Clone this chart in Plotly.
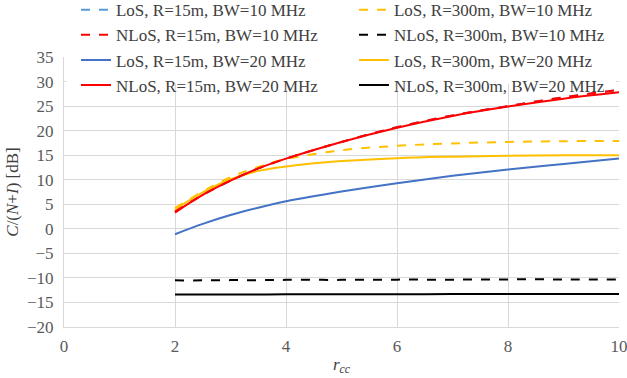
import plotly.graph_objects as go

x = [2, 2.5, 3, 3.5, 4, 5, 6, 7, 8, 9, 10]

los15_10 = [3.5, 6.9, 9.8, 12.3, 14.3, 17.7, 20.7, 23.1, 25.0, 26.8, 28.3]
nlos15_10 = [3.5, 6.9, 9.8, 12.3, 14.3, 17.7, 20.7, 23.1, 25.0, 26.8, 28.3]
los15_20 = [-1.1, 1.0, 2.8, 4.3, 5.6, 7.6, 9.3, 10.8, 12.1, 13.2, 14.3]
nlos15_20 = [3.3, 6.9, 9.8, 12.3, 14.3, 17.7, 20.6, 23.0, 24.9, 26.5, 27.8]
los300_10 = [4.2, 7.6, 10.5, 12.6, 14.2, 16.0, 16.9, 17.4, 17.7, 17.85, 17.9]
nlos300_10 = [-10.5, -10.5, -10.45, -10.45, -10.4, -10.4, -10.35, -10.35, -10.3, -10.3, -10.3]
los300_20 = [3.9, 7.4, 10.1, 11.8, 12.7, 13.8, 14.4, 14.7, 14.9, 15.0, 15.0]
nlos300_20 = [-13.4, -13.4, -13.4, -13.4, -13.35, -13.35, -13.35, -13.3, -13.3, -13.3, -13.3]

names = [
    "LoS, R=15m, BW=10 MHz", "NLoS, R=15m, BW=10 MHz",
    "LoS, R=15m, BW=20 MHz", "NLoS, R=15m, BW=20 MHz",
    "LoS, R=300m, BW=10 MHz", "NLoS, R=300m, BW=10 MHz",
    "LoS, R=300m, BW=20 MHz", "NLoS, R=300m, BW=20 MHz",
]
series = [los15_10, nlos15_10, los15_20, nlos15_20,
          los300_10, nlos300_10, los300_20, nlos300_20]
colors = ["#5B9BD5", "#FF0000", "#4472C4", "#FF0000",
          "#FFC000", "#000000", "#FFC000", "#000000"]
dashes = ["dash", "dash", "solid", "solid", "dash", "dash", "solid", "solid"]
legends = ["legend"] * 4 + ["legend2"] * 4

font = "Liberation Serif, Times New Roman, serif"

fig = go.Figure()
# drawing order: back to front
order = [0, 2, 6, 4, 5, 7, 1, 3]
for i in order:
    fig.add_trace(go.Scatter(
        x=x, y=series[i], name=names[i], mode="lines",
        line=dict(color=colors[i], width=2, dash=dashes[i], shape="spline", smoothing=1.0),
        legend=legends[i], legendrank=i + 1,
    ))

legend_style = dict(
    font=dict(family=font, size=17, color="#404040"),
    bgcolor="rgba(0,0,0,0)", orientation="v",
    xanchor="left", yanchor="top", itemwidth=30,
    tracegroupgap=0, traceorder="normal",
)

# white legend background box hiding the top gridlines
fig.add_shape(
    type="rect", xref="x", yref="y",
    x0=0.04, x1=9.94, y0=29.6, y1=35.4,
    fillcolor="#FFFFFF", opacity=1, line=dict(width=0, color="#FFFFFF"), layer="above",
)

fig.update_layout(
    width=627, height=378,
    margin=dict(l=64, r=8, t=57, b=51, autoexpand=False),
    paper_bgcolor="white", plot_bgcolor="white",
    font=dict(family=font, size=17, color="#595959"),
    showlegend=True,
    legend=dict(x=0.0216, y=1.24, **legend_style),
    legend2=dict(x=0.5225, y=1.24, **legend_style),
    xaxis=dict(
        range=[0, 10], dtick=2, tick0=0,
        showgrid=True, gridcolor="#D9D9D9", gridwidth=1,
        showline=True, linecolor="#D9D9D9", linewidth=1,
        zeroline=False, ticks="", ticklabelstandoff=4, ticklabeloverflow="allow",
        title=dict(text="<i>r</i><sub><i>cc</i></sub>", font=dict(family=font, size=17, color="#404040"), standoff=2),
    ),
    yaxis=dict(
        range=[-20, 35], dtick=5, tick0=-20,
        showgrid=True, gridcolor="#D9D9D9", gridwidth=1,
        showline=True, linecolor="#D9D9D9", linewidth=1,
        zeroline=False, ticks="", ticklabelstandoff=6, ticklabeloverflow="allow",
        title=dict(text="<i>C</i>/(<i>N</i>+<i>I</i>) [dB]", font=dict(family=font, size=17, color="#404040"), standoff=4),
    ),
)

fig.write_html("out.html")
